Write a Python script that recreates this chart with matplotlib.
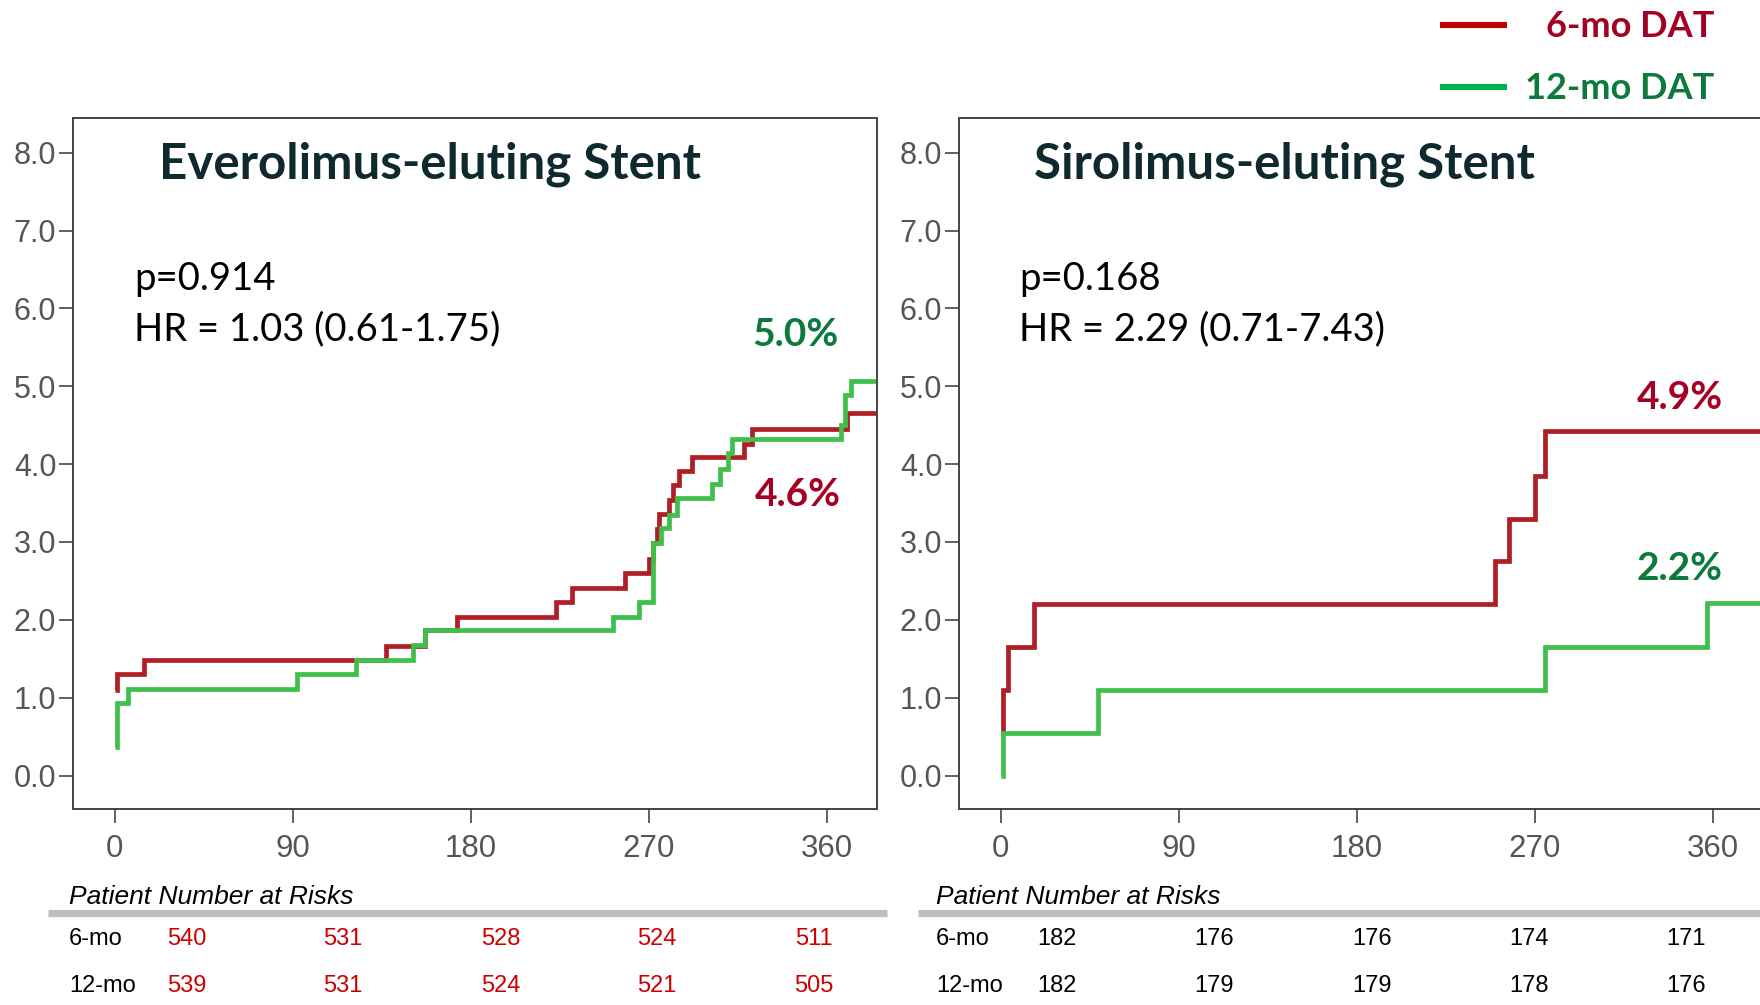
import matplotlib
matplotlib.use("Agg")
import matplotlib.pyplot as plt
from matplotlib.lines import Line2D

# cumulative event rate (%) by day after stenting
ees_6mo_days = [0, 1, 15, 137, 157, 173, 223, 231, 258, 270, 272, 274, 275, 280, 282, 285, 292, 318, 322, 370]
ees_6mo_rate = [1.10, 1.31, 1.49, 1.66, 1.87, 2.04, 2.23, 2.41, 2.60, 2.78, 2.99, 3.16, 3.36, 3.54, 3.73, 3.91, 4.09, 4.26, 4.45, 4.65]
ees_12mo_days = [0, 1, 7, 92, 122, 151, 157, 252, 265, 272, 276, 280, 284, 302, 306, 310, 312, 367, 369, 372]
ees_12mo_rate = [0.37, 0.93, 1.11, 1.31, 1.49, 1.67, 1.87, 2.04, 2.23, 2.99, 3.18, 3.35, 3.56, 3.74, 3.94, 4.14, 4.32, 4.50, 4.89, 5.07]

ses_6mo_days = [0, 1, 4, 17, 250, 257, 270, 275]
ses_6mo_rate = [0.55, 1.10, 1.65, 2.20, 2.75, 3.30, 3.85, 4.42]
ses_12mo_days = [0, 1, 49, 275, 357]
ses_12mo_rate = [0.0, 0.55, 1.10, 1.65, 2.21]

x_ticks = [0, 90, 180, 270, 360]
y_ticks = [0, 1, 2, 3, 4, 5, 6, 7, 8]

ees_risk_6mo = [540, 531, 528, 524, 511]
ees_risk_12mo = [539, 531, 524, 521, 505]
ses_risk_6mo = [182, 176, 176, 174, 171]
ses_risk_12mo = [182, 179, 179, 178, 176]

RED = "#b01e26"
GREEN = "#3fc04a"
RED_TXT = "#a50021"
GREEN_TXT = "#0c7a3c"
TITLE_C = "#0e2a2f"
X_END = 385

W, H = 1760, 1005
fig = plt.figure(figsize=(W / 100, H / 100), dpi=100)


def panel(left_px, title, p_text, hr_text, red_d, red_r, green_d, green_r, red_lbl, green_lbl):
    ax = fig.add_axes([left_px / W, (H - 809) / H, 803.5 / W, 690.6 / H])
    ax.step(red_d + [X_END], red_r + [red_r[-1]], where="post", color=RED, lw=3.4,
            solid_joinstyle="miter", solid_capstyle="butt")
    ax.step(green_d + [X_END], green_r + [green_r[-1]], where="post", color=GREEN, lw=3.4,
            solid_joinstyle="miter", solid_capstyle="butt")
    ax.set_xlim(-21, X_END)
    ax.set_ylim(-0.43, 8.44)
    ax.set_xticks(x_ticks)
    ax.set_yticks(y_ticks)
    ax.set_yticklabels([f"{v:.1f}" for v in y_ticks])
    for s in ax.spines.values():
        s.set_color("#444444")
        s.set_linewidth(1.4)
    ax.tick_params(axis="y", direction="out", length=10, width=1.3, color="#555555",
                   labelcolor="#555555", labelsize=22, pad=2)
    ax.tick_params(axis="x", direction="out", length=10, width=1.3, color="#555555",
                   labelcolor="#555555", labelsize=22.5, pad=8)
    for lab in ax.get_xticklabels() + ax.get_yticklabels():
        lab.set_family(["Liberation Sans", "DejaVu Sans"])

    ax.text(title[1], 7.85, title[0], fontsize=35.5, fontweight="bold", family="Lato",
            color=TITLE_C, va="center", ha="left")
    ax.text(p_text[1], 6.38, p_text[0], fontsize=27.5, family="Lato", va="center", ha="left")
    ax.text(p_text[1], 5.73, hr_text, fontsize=27.5, family="Lato", va="center", ha="left")
    ax.text(red_lbl[1], red_lbl[2], red_lbl[0], fontsize=28, fontweight="bold", family="Lato",
            color=RED_TXT, ha="center", va="center")
    ax.text(green_lbl[1], green_lbl[2], green_lbl[0], fontsize=28, fontweight="bold", family="Lato",
            color=GREEN_TXT, ha="center", va="center")
    return ax


panel(73, ("Everolimus-eluting Stent", 22.5), ("p=0.914", 10), "HR = 1.03 (0.61-1.75)",
      ees_6mo_days, ees_6mo_rate, ees_12mo_days, ees_12mo_rate,
      ("4.6%", 345, 3.61), ("5.0%", 344, 5.67))
panel(959, ("Sirolimus-eluting Stent", 17), ("p=0.168", 9.5), "HR = 2.29 (0.71-7.43)",
      ses_6mo_days, ses_6mo_rate, ses_12mo_days, ses_12mo_rate,
      ("4.9%", 343, 4.86), ("2.2%", 343, 2.66))

# legend at the top right
for y_px, col, txt_col, label in [(25, "#c00000", RED_TXT, "6-mo DAT"), (87, "#00b050", GREEN_TXT, "12-mo DAT")]:
    fig.add_artist(Line2D([1440 / W, 1507 / W], [1 - y_px / H, 1 - y_px / H], color=col, lw=4.4,
                          solid_capstyle="butt"))
    fig.text(1714 / W, 1 - (y_px + 1.5) / H, label, fontsize=26, fontweight="bold", family="Lato",
             color=txt_col, ha="right", va="center")

# patients at risk tables
risk_font = ["Liberation Sans", "DejaVu Sans"]
tables = [
    (69, 48, 887, [187, 343, 501, 657, 814], ees_risk_6mo, ees_risk_12mo, "#cc0000"),
    (936, 918, W, [1057, 1214, 1372, 1529, 1686], ses_risk_6mo, ses_risk_12mo, "black"),
]
for x0, bar_l, bar_r, cols, r6, r12, num_c in tables:
    fig.text(x0 / W, 1 - 897 / H, "Patient Number at Risks", fontsize=19, style="italic",
             family=risk_font, ha="left", va="center")
    fig.add_artist(Line2D([bar_l / W, bar_r / W], [1 - 912.5 / H, 1 - 912.5 / H], color="#bfbfbf",
                          lw=5.2, solid_capstyle="butt"))
    for y_px, label, vals in [(939, "6-mo", r6), (986, "12-mo", r12)]:
        fig.text(x0 / W, 1 - y_px / H, label, fontsize=17, family=risk_font, ha="left", va="center")
        for cx, v in zip(cols, vals):
            fig.text(cx / W, 1 - y_px / H, str(v), fontsize=17, family=risk_font, color=num_c,
                     ha="center", va="center")

fig.savefig("out.png", dpi=100)
